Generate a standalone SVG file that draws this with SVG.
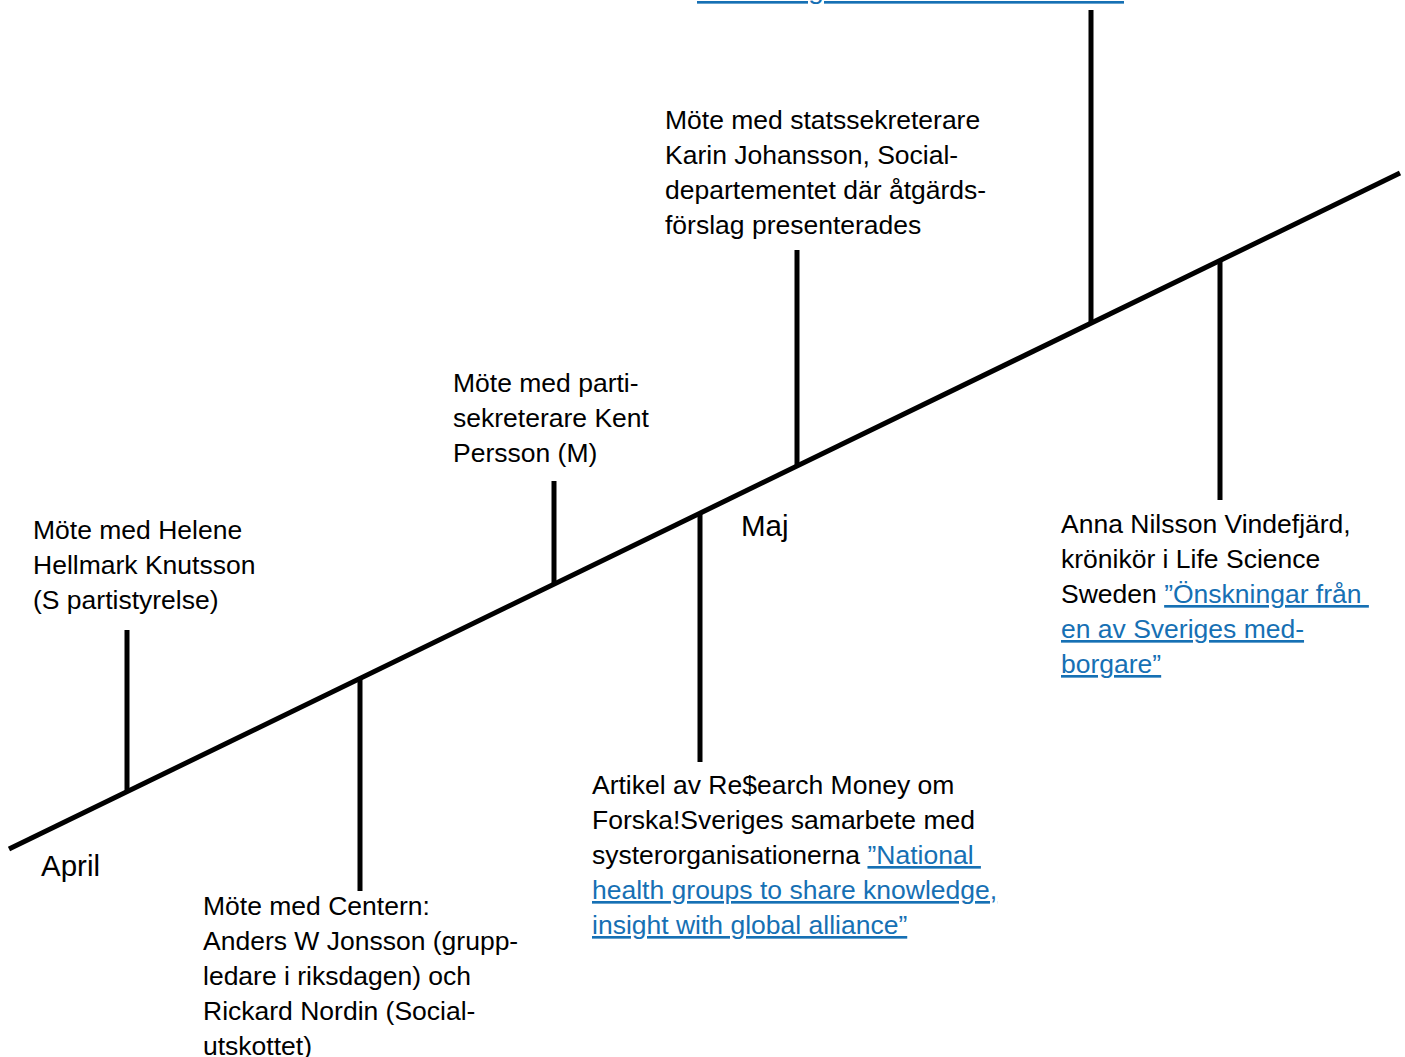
<svg xmlns="http://www.w3.org/2000/svg" width="1405" height="1057" viewBox="0 0 1405 1057">
<style>
text{font-family:"Liberation Sans",Arial,sans-serif;font-size:26.5px;fill:#000}
.big{font-size:29.5px}
.link{fill:#1670B4;text-decoration:underline}
.ln{stroke:#000;stroke-width:5;fill:none;stroke-linecap:butt}
</style>
<rect width="1405" height="1057" fill="#fff"/>
<g id="connectors">
<line class="ln" x1="9" y1="849" x2="1400" y2="173"/>
<line class="ln" x1="127" y1="630" x2="127" y2="792"/>
<line class="ln" x1="360" y1="677" x2="360" y2="891"/>
<line class="ln" x1="554" y1="481" x2="554" y2="585"/>
<line class="ln" x1="700" y1="512" x2="700" y2="762"/>
<line class="ln" x1="797" y1="250" x2="797" y2="467"/>
<line class="ln" x1="1091" y1="10" x2="1091" y2="324"/>
<line class="ln" x1="1220" y1="259" x2="1220" y2="500"/>
</g>
<g id="label-april"><text class="big" x="41" y="876">April</text></g>
<g id="label-maj"><text class="big" x="741" y="536">Maj</text></g>
<g id="event-helene">
<text x="33" y="539">Möte med Helene</text>
<text x="33" y="574">Hellmark Knutsson</text>
<text x="33" y="609">(S partistyrelse)</text>
</g>
<g id="event-centern">
<text x="203" y="915">Möte med Centern:</text>
<text x="203" y="950">Anders W Jonsson (grupp-</text>
<text x="203" y="985">ledare i riksdagen) och</text>
<text x="203" y="1020">Rickard Nordin (Social-</text>
<text x="203" y="1055">utskottet)</text>
</g>
<g id="event-kent">
<text x="453" y="392">Möte med parti-</text>
<text x="453" y="427">sekreterare Kent</text>
<text x="453" y="462">Persson (M)</text>
</g>
<g id="event-research">
<text x="592" y="794">Artikel av Re$earch Money om</text>
<text x="592" y="829">Forska!Sveriges samarbete med</text>
<text x="592" y="864" xml:space="preserve">systerorganisationerna <tspan class="link">”National </tspan></text>
<text x="592" y="899" class="link">health groups to share knowledge,</text>
<text x="592" y="934" class="link">insight with global alliance”</text>
</g>
<g id="event-statssekreterare">
<text x="665" y="129">Möte med statssekreterare</text>
<text x="665" y="164">Karin Johansson, Social-</text>
<text x="665" y="199">departementet där åtgärds-</text>
<text x="665" y="234">förslag presenterades</text>
</g>
<g id="event-top">
<text x="697" y="-1" class="link" textLength="427" lengthAdjust="spacingAndGlyphs">”Nivåuttagarna bör fara av Clintoh”</text>
</g>
<g id="event-anna">
<text x="1061" y="533">Anna Nilsson Vindefjärd,</text>
<text x="1061" y="568">krönikör i Life Science</text>
<text x="1061" y="603" xml:space="preserve">Sweden <tspan class="link">”Önskningar från </tspan></text>
<text x="1061" y="638" class="link">en av Sveriges med-</text>
<text x="1061" y="673" class="link">borgare”</text>
</g>
</svg>
